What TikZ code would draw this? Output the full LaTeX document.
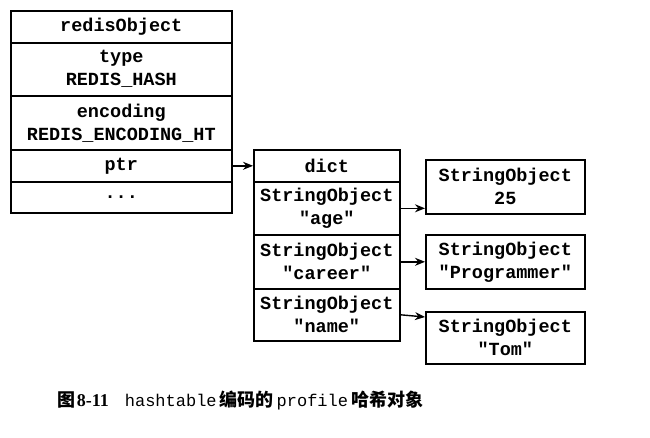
\documentclass[tikz,border=0pt]{standalone}
\usepackage{fontspec}
\setmainfont{Liberation Serif}
\setmonofont{Liberation Mono}
\newfontfamily\cjk{Noto Sans CJK SC}
\usetikzlibrary{arrows.meta,calc}
\begin{document}
\begin{tikzpicture}[x=1pt,y=-1pt,
  cell/.style={draw, line width=1.6pt, inner sep=0pt, align=center,
    font=\fontsize{18.5}{23}\selectfont\ttfamily\bfseries, anchor=north west},
  arr/.style={-{Stealth[length=10pt,width=8pt]}, line width=1.4pt}]
\useasboundingbox (0,0) rectangle (650,437);
% redisObject
\node[cell, minimum width=221pt, minimum height=32pt] (ro) at (10,10) {redisObject};
\node[cell, minimum width=221pt, minimum height=53pt] (rtype) at (10,42) {type\\REDIS\_HASH};
\node[cell, minimum width=221pt, minimum height=54pt] (renc) at (10,95) {encoding\\REDIS\_ENCODING\_HT};
\node[cell, minimum width=221pt, minimum height=32pt] (rptr) at (10,149) {ptr};
\node[cell, minimum width=221pt, minimum height=31pt] (rdots) at (10,181) {...};
% dict
\node[cell, minimum width=146pt, minimum height=32pt] (dict) at (253,149) {dict};
\node[cell, minimum width=146pt, minimum height=53pt] (kage) at (253,181) {StringObject\\"age"};
\node[cell, minimum width=146pt, minimum height=54pt] (kcar) at (253,234) {StringObject\\"career"};
\node[cell, minimum width=146pt, minimum height=52pt] (kname) at (253,288) {StringObject\\"name"};
% values
\node[cell, minimum width=159pt, minimum height=54pt] (v1) at (425,159) {StringObject\\25};
\node[cell, minimum width=159pt, minimum height=54pt] (v2) at (425,234) {StringObject\\"Programmer"};
\node[cell, minimum width=159pt, minimum height=52pt] (v3) at (425,311) {StringObject\\"Tom"};
% arrows
\draw[arr] (rptr.east) -- (rptr.east -| dict.west);
\draw[arr] (kage.east) -- (kage.east -| v1.west);
\draw[arr] (kcar.east) -- (kcar.east -| v2.west);
\draw[arr] (kname.east) -- ($(v3.north west)+(0,6)$);
% caption
\node[anchor=west, inner sep=0pt] (cap) at (57,400)
  {{\cjk\bfseries\fontsize{18}{20}\selectfont 图}\,{\bfseries\fontsize{18}{20}\selectfont 8-11}\hspace{16pt}{\ttfamily\fontsize{17}{20}\selectfont hashtable}\hspace{3pt}{\cjk\bfseries\fontsize{18}{20}\selectfont 编码的}\hspace{3pt}{\ttfamily\fontsize{17}{20}\selectfont profile}\hspace{3pt}{\cjk\bfseries\fontsize{18}{20}\selectfont 哈希对象}};
\end{tikzpicture}
\end{document}
